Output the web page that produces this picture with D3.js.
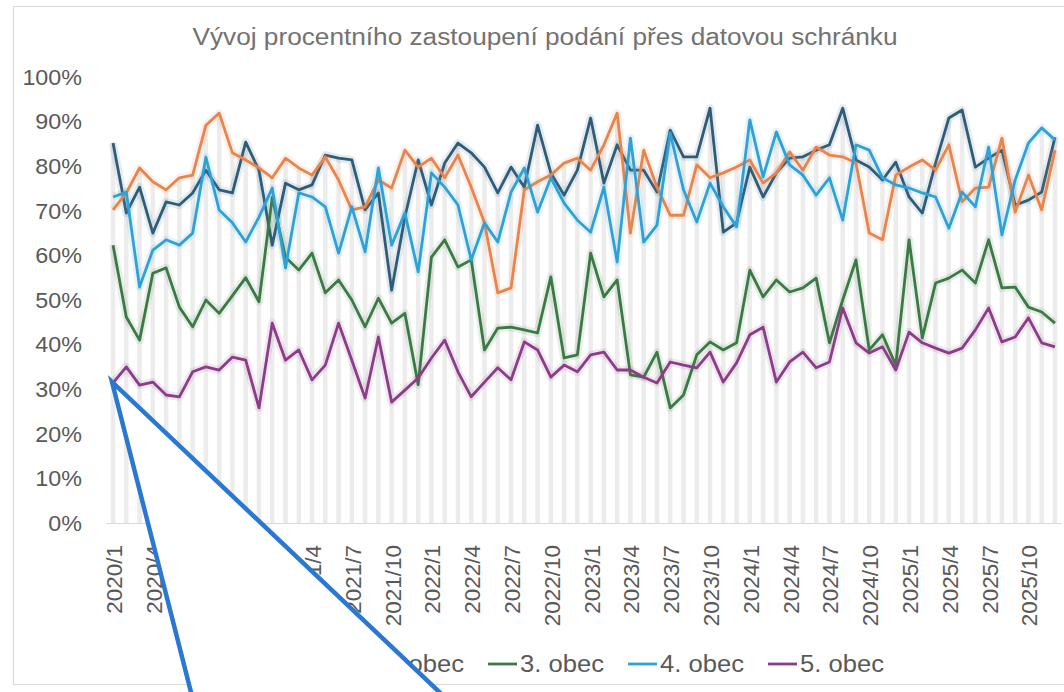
<!DOCTYPE html>
<html>
<head>
<meta charset="utf-8">
<script src="https://cdn.jsdelivr.net/npm/d3@7"></script>
<style>
  html, body { margin: 0; padding: 0; background: #fff; }
  svg text { font-family: "Liberation Sans", Arial, sans-serif; fill: #595959; }
</style>
</head>
<body>
<div id="chart"></div>
<script>
var width = 1064, height = 692;

// kategorie: mesice 2020/1 .. 2025/12
var years = [2020, 2021, 2022, 2023, 2024, 2025];
var months = [];
years.forEach(function (y) {
    for (var m = 1; m <= 12; m++) months.push(y + '/' + m);
});

var seriesNames = ['1. obec', '2. obec', '3. obec', '4. obec', '5. obec'];
var seriesColors = ['#2d5d78', '#e8844c', '#3b7a44', '#2ea2d6', '#8c3d87'];

var obec1 = [85.2, 69.5, 75.3, 65, 72, 71.3, 74, 79.1, 74.7, 74, 85.4, 79.1, 62.3, 76.2, 74.7, 75.8, 82.5, 81.8, 81.4, 70.2, 74, 52.2, 68.6, 81.4, 71.3, 80.7, 85.2, 83, 79.8, 74, 79.8, 75.3, 89.2, 78.5, 73.5, 79.1, 90.8, 76.2, 84.8, 79.1, 79.1, 74.2, 88.1, 82.1, 82.1, 93, 65.2, 67.3, 79.8, 73.1, 78.5, 81.8, 82.1, 83.6, 84.8, 93, 81.4, 79.8, 76.9, 80.9, 73.1, 69.5, 80.7, 90.8, 92.6, 79.8, 81.8, 83.6, 71.3, 72.4, 74.2, 86.5];
var obec2 = [70.2, 74, 79.6, 76.5, 74.7, 77.4, 78, 89.2, 91.9, 83, 81.4, 79.6, 77.4, 81.8, 79.6, 78, 82.1, 76.9, 70.2, 70.9, 76.9, 75.1, 83.6, 79.8, 81.8, 77.4, 82.5, 75.3, 67.3, 51.6, 52.7, 74.7, 76.5, 78, 80.7, 81.8, 79.1, 84.8, 91.9, 65, 83.6, 75.3, 69, 69, 80.3, 77.4, 78.5, 79.8, 81.4, 76.2, 78.5, 83.2, 79.1, 84.3, 82.5, 82.1, 80.7, 65, 63.5, 78, 79.8, 81.4, 79.1, 84.8, 72, 75.1, 75.3, 86.3, 69.7, 78, 70.2, 83.6];
var obec3 = [62.3, 46.2, 41, 56, 57.2, 48.4, 44, 50, 47, 51, 55, 49.6, 73, 59.6, 56.7, 60.5, 51.6, 54.5, 50, 44, 50.4, 44.8, 47, 31, 59.6, 63.5, 57.4, 59, 38.8, 43.7, 43.9, 43.3, 42.6, 55.2, 37, 37.7, 60.5, 50.7, 54.5, 33.2, 32.7, 38.3, 25.8, 28.7, 37.7, 40.6, 38.8, 40.4, 56.7, 50.7, 54.5, 51.8, 52.7, 54.9, 40.4, 50, 59, 38.8, 42.2, 35.4, 63.5, 41.5, 53.8, 54.9, 56.7, 53.8, 63.5, 52.7, 52.9, 48.4, 47.3, 44.8];
var obec4 = [73.1, 74.2, 52.9, 61.2, 63.5, 62.3, 65, 82, 70.2, 67.3, 63, 68.6, 75.1, 57.2, 74, 73.1, 70.9, 60.5, 70.9, 60.8, 79.6, 62.3, 69.5, 56.3, 78.5, 75.3, 71.3, 59, 67.3, 63, 74.2, 79.6, 69.7, 77.4, 71.7, 67.9, 65.2, 75.3, 58.5, 86.3, 63, 66.8, 87.4, 74.7, 67.5, 76.2, 70.9, 66.4, 90.4, 77.6, 87.7, 80.3, 78, 73.5, 77.4, 67.9, 84.8, 83.6, 77.4, 75.8, 75.1, 74, 73.1, 66.1, 74.2, 70.9, 84.3, 64.6, 76.9, 85.2, 88.6, 85.9];
var obec5 = [31.4, 35, 30.9, 31.6, 28.7, 28.3, 33.9, 35, 34.3, 37.2, 36.5, 25.8, 44.8, 36.5, 38.8, 32.1, 35.4, 44.8, 36.5, 28, 41.7, 27.1, 29.8, 32.5, 37, 41, 33.9, 28.3, 31.6, 34.8, 32.1, 40.6, 38.8, 32.7, 35.4, 33.9, 37.7, 38.3, 34.3, 34.3, 32.7, 31.4, 36.1, 35.4, 34.8, 38.3, 31.6, 35.9, 42.2, 43.9, 31.6, 36.1, 38.3, 34.8, 36.1, 48.2, 40.4, 38.1, 39.5, 34.3, 42.8, 40.4, 39.2, 38.1, 39.2, 43.3, 48.2, 40.6, 41.7, 46, 40.4, 39.5];

var yTicks = [0, 10, 20, 30, 40, 50, 60, 70, 80, 90, 100];
var allSeries = [obec1, obec2, obec3, obec4, obec5];

var svg = d3.select('#chart').append('svg')
    .attr('width', width)
    .attr('height', height);

// ramecek grafu
svg.append('rect')
    .attr('x', 13.5).attr('y', 6.5)
    .attr('width', 1100).attr('height', 678)
    .attr('fill', '#fff')
    .attr('stroke', '#d9d9d9');

var x = d3.scalePoint()
    .domain(months)
    .range([106.4, 1061.6])
    .padding(0.5);

var y = d3.scaleLinear()
    .domain([0, 100])
    .range([523, 77]);

// titulek
svg.append('text')
    .attr('x', 545).attr('y', 45)
    .attr('text-anchor', 'middle')
    .attr('textLength', 705)
    .attr('lengthAdjust', 'spacingAndGlyphs')
    .style('font-size', '23px')
    .style('fill', '#727272')
    .text('Vývoj procentního zastoupení podání přes datovou schránku');

// svisle spojnice (drop lines) od maxima k ose
svg.append('g').selectAll('line')
    .data(months)
    .enter().append('line')
    .attr('x1', function (d) { return x(d); })
    .attr('x2', function (d) { return x(d); })
    .attr('y1', y(0))
    .attr('y2', function (d, i) {
        return y(d3.max(allSeries, function (s) { return s[i]; }));
    })
    .attr('stroke', '#ececec')
    .attr('stroke-width', 4.5);

// osa x
svg.append('line')
    .attr('x1', 106.4).attr('x2', 1061.6)
    .attr('y1', y(0) + 0.5).attr('y2', y(0) + 0.5)
    .attr('stroke', '#d9d9d9');

// popisky osy y
svg.append('g').selectAll('text')
    .data(yTicks)
    .enter().append('text')
    .attr('transform', function (d) { return 'translate(82,' + y(d) + ') scale(1.06,1)'; })
    .attr('dy', '0.35em')
    .attr('text-anchor', 'end')
    .style('font-size', '22px')
    .text(function (d) { return d + '%'; });

// popisky osy x (kazdy 3. mesic)
svg.append('g').selectAll('text')
    .data(months.filter(function (d, i) { return i % 3 === 0; }))
    .enter().append('text')
    .attr('transform', function (d) {
        return 'translate(' + (x(d) + 1) + ',545) rotate(-90)';
    })
    .attr('dy', '0.35em')
    .attr('text-anchor', 'end')
    .style('font-size', '22.5px')
    .text(function (d) { return d; });

var line = d3.line()
    .x(function (d, i) { return x(months[i]); })
    .y(function (d) { return y(d); });

var series = svg.append('g').selectAll('g')
    .data(allSeries)
    .enter().append('g');

// jemna zare kolem car
series.append('path')
    .attr('d', line)
    .attr('fill', 'none')
    .attr('stroke', function (d, i) { return seriesColors[i]; })
    .attr('stroke-width', 8)
    .attr('stroke-opacity', 0.12)
    .attr('stroke-linejoin', 'round');

series.append('path')
    .attr('d', line)
    .attr('fill', 'none')
    .attr('stroke', function (d, i) { return seriesColors[i]; })
    .attr('stroke-width', 2.8)
    .attr('stroke-linejoin', 'round');

// legenda
var legend = svg.append('g').selectAll('g')
    .data(seriesNames)
    .enter().append('g')
    .attr('transform', function (d, i) {
        return 'translate(' + (208 + i * 140) + ',664)';
    });

legend.append('line')
    .attr('x1', 0).attr('x2', 29)
    .attr('stroke', function (d, i) { return seriesColors[i]; })
    .attr('stroke-width', 2.8);

legend.append('text')
    .attr('x', 32)
    .attr('dy', '0.35em')
    .attr('textLength', 84)
    .attr('lengthAdjust', 'spacingAndGlyphs')
    .style('font-size', '23.5px')
    .text(function (d) { return d; });

// modra sipka (anotace) smerujici na prvni hodnotu 5. obce, bile vyplnena
var tipX = x(months[0]) - 1, tipY = y(obec5[0]) - 1;
svg.append('path')
    .attr('d', 'M194,704 L' + tipX + ',' + tipY + ' L452,704 Z')
    .attr('fill', '#fff')
    .attr('stroke', '#2a78d2')
    .attr('stroke-width', 4.5)
    .attr('stroke-linejoin', 'miter');
</script>
</body>
</html>
